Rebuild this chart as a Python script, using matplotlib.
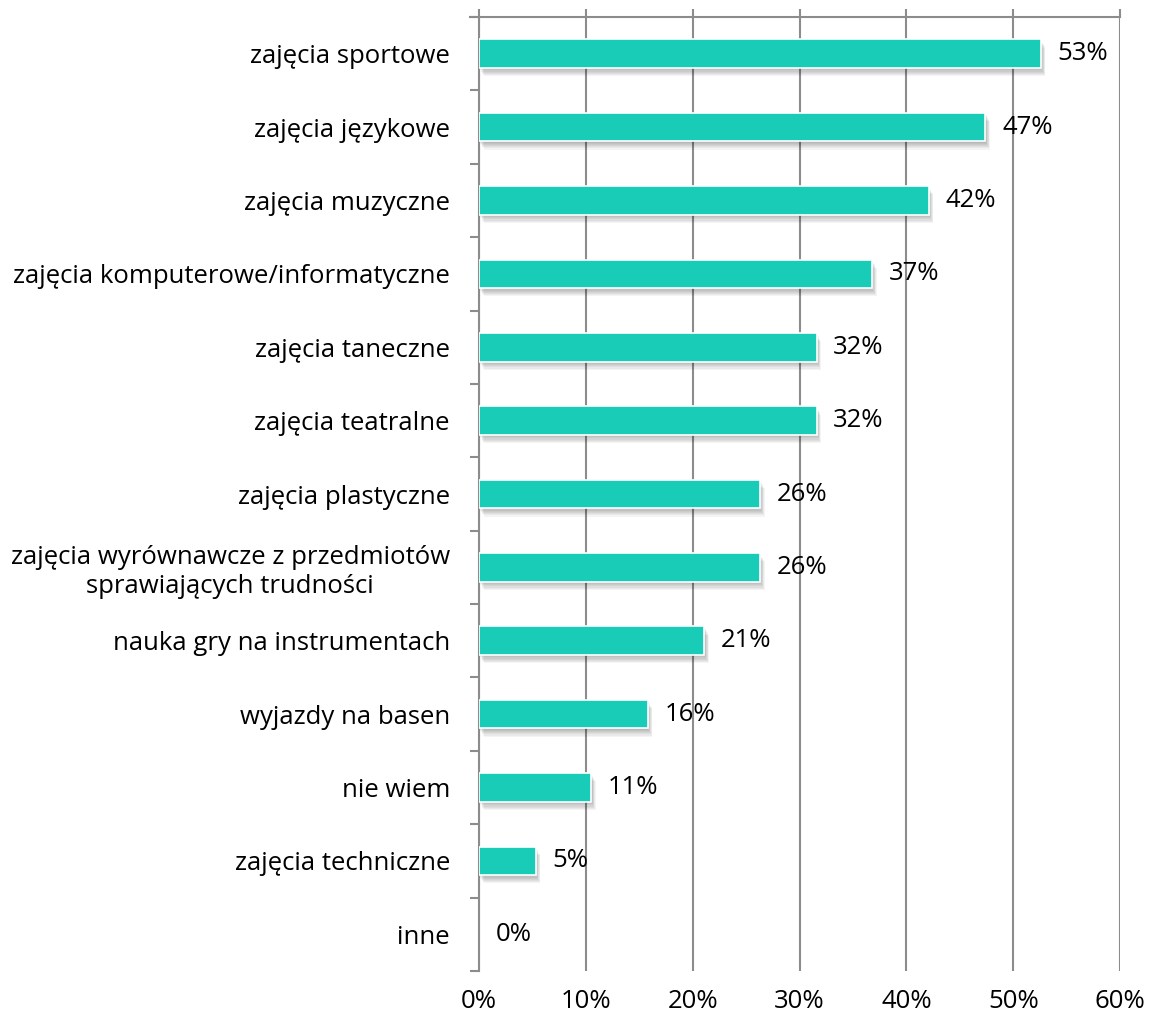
import matplotlib.pyplot as plt
import numpy as np

# Data
categories = ['zajęcia sportowe', 'zajęcia językowe', 'zajęcia muzyczne',
              'zajęcia komputerowe/informatyczne', 'zajęcia taneczne',
              'zajęcia teatralne', 'zajęcia plastyczne',
              'zajęcia wyrównawcze z przedmiotów\nsprawiających trudności',
              'nauka gry na instrumentach', 'wyjazdy na basen', 'nie wiem',
              'zajęcia techniczne', 'inne']
values = [52.6, 47.4, 42.1, 36.8, 31.6, 31.6, 26.3, 26.3, 21.1, 15.8, 10.5, 5.3, 0.0]
labels = ['53%', '47%', '42%', '37%', '32%', '32%', '26%', '26%', '21%', '16%', '11%', '5%', '0%']
xticks = [0, 10, 20, 30, 40, 50, 60]

plt.rcParams['font.family'] = ['Open Sans', 'DejaVu Sans']
grid_col = '#8c8c8c'
bar_col = '#19ccb7'
fs = 18.5

fig = plt.figure(figsize=(11.51, 10.23), dpi=100)
ax = fig.add_axes([0.4162, 0.0508, 0.9731 - 0.4162, 0.9834 - 0.0508])

y = np.arange(len(categories))
h = 0.39
edge_w = [1.2 if v > 0 else 0 for v in values]

# soft shadow under the bars
for k in range(1, 8):
    ax.barh(y + 0.016 * k, values, height=h, left=0.06 * k,
            color='black', alpha=0.045, linewidth=0, zorder=2)
ax.barh(y, values, height=h, color=bar_col, edgecolor='white', linewidth=edge_w, zorder=3)

for yi, v, lab in zip(y, values, labels):
    ax.annotate(lab, (v, yi), xytext=(12, 0), textcoords='offset points',
                ha='left', va='center', fontsize=fs, color='black', zorder=4)

ax.set_xlim(0, 60)
ax.set_ylim(len(categories) - 0.5, -0.5)
ax.set_xticks(xticks)
ax.set_xticklabels([f'{t}%' for t in xticks], fontsize=fs)
ax.xaxis.grid(True, color=grid_col, linewidth=1.5, zorder=1)
ax.set_axisbelow(True)

ax.tick_params(axis='x', which='major', bottom=False, top=True, labelbottom=True,
               labeltop=False, direction='out', length=6, width=1.5,
               color=grid_col, pad=7)

ax.set_yticks(y)
ax.set_yticklabels(categories, fontsize=fs)
for t in ax.get_yticklabels():
    t.set_multialignment('center')
ax.set_yticks(np.arange(len(categories) + 1) - 0.5, minor=True)
ax.tick_params(axis='y', which='major', length=0, pad=21)
ax.tick_params(axis='y', which='minor', length=6.5, width=1.5, color=grid_col)

for side in ['right', 'bottom']:
    ax.spines[side].set_visible(False)
for side in ['left', 'top']:
    ax.spines[side].set_color(grid_col)
    ax.spines[side].set_linewidth(1.5)
ax.spines['top'].set_bounds(-0.8, 60)
ax.spines['top'].set_clip_on(False)

fig.savefig('out.png', dpi=100)
